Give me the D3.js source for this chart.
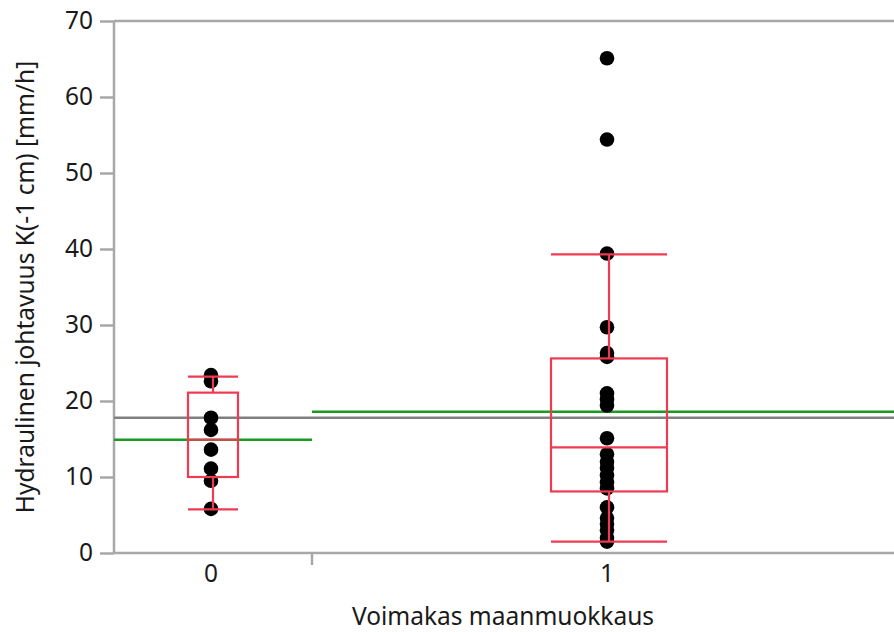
<!DOCTYPE html>
<html>
<head>
<meta charset="utf-8">
<script src="https://cdn.jsdelivr.net/npm/d3@7"></script>
<style>
    body { margin: 0; background: #fff; }
    text { font-family: "Noto Sans", "Open Sans", sans-serif; }
</style>
</head>
<body>
<div id="wrapper"></div>
<script>
// data
const categories = ["0", "1"];
const group0Values = [23.4, 22.6, 17.8, 16.2, 13.6, 11.1, 9.5, 5.8];
const group1Values = [65.1, 54.4, 39.4, 29.7, 26.3, 25.8, 21.0, 20.2, 19.4, 15.1,
    13.0, 12.0, 11.2, 10.2, 9.3, 8.5, 6.0, 4.6, 3.8, 3.0, 2.0, 1.5];
const boxLow = [5.75, 1.5];
const boxQ1 = [10.0, 8.1];
const boxMedian = [14.9, 13.9];
const boxQ3 = [21.1, 25.6];
const boxHigh = [23.2, 39.3];
const groupMeans = [14.9, 18.6];
const grandMean = 17.8;
const yTicks = [0, 10, 20, 30, 40, 50, 60, 70];

function drawChart() {
    let dimensions = {
        width: 894,
        height: 632,
        margin: { top: 21, right: -12, bottom: 79, left: 114 },
    };
    dimensions.boundedWidth = dimensions.width - dimensions.margin.left - dimensions.margin.right;
    dimensions.boundedHeight = dimensions.height - dimensions.margin.top - dimensions.margin.bottom;

    const fontSize = "24.5px";

    const wrapper = d3.select("#wrapper")
        .append("svg")
        .attr("width", dimensions.width)
        .attr("height", dimensions.height);

    const bounds = wrapper.append("g")
        .attr("transform", `translate(${dimensions.margin.left},${dimensions.margin.top})`);

    const yScale = d3.scaleLinear()
        .domain([0, 70])
        .range([dimensions.boundedHeight, 0]);

    // x widths: group 0 takes a quarter of the axis, group 1 the rest
    const bandEdges = [0, 0.25, 1];
    const xScale = d3.scaleLinear()
        .domain([0, 1])
        .range([0, dimensions.boundedWidth]);
    const centerOf = i => xScale((bandEdges[i] + bandEdges[i + 1]) / 2);
    const boxHalf = [25, 58];

    const groups = categories.map((c, i) => ({
        name: c,
        values: i === 0 ? group0Values : group1Values,
        low: boxLow[i], q1: boxQ1[i], median: boxMedian[i], q3: boxQ3[i], high: boxHigh[i],
        mean: groupMeans[i],
        x0: xScale(bandEdges[i]), x1: xScale(bandEdges[i + 1]),
        cx: centerOf(i), half: boxHalf[i],
    }));

    const axisColor = "#a8a8a8";
    const boxColor = "#ef3b52";

    // frame: top line
    bounds.append("line")
        .attr("x1", 0).attr("x2", dimensions.boundedWidth)
        .attr("y1", yScale(70)).attr("y2", yScale(70))
        .attr("stroke", axisColor).attr("stroke-width", 2.5);

    // y axis
    const yAxis = bounds.append("g")
        .call(d3.axisLeft(yScale).tickValues(yTicks).tickSize(14).tickPadding(7));
    yAxis.select(".domain").remove();
    yAxis.selectAll(".tick line").attr("stroke", axisColor).attr("stroke-width", 2.5);
    yAxis.selectAll(".tick text")
        .attr("fill", "#1a1a1a")
        .style("font-size", fontSize)
        .style("font-family", "'Noto Sans', sans-serif");
    bounds.append("line")
        .attr("x1", 0).attr("x2", 0)
        .attr("y1", 0).attr("y2", dimensions.boundedHeight)
        .attr("stroke", axisColor).attr("stroke-width", 2.5);

    // x axis
    bounds.append("line")
        .attr("x1", 0).attr("x2", dimensions.boundedWidth)
        .attr("y1", dimensions.boundedHeight).attr("y2", dimensions.boundedHeight)
        .attr("stroke", axisColor).attr("stroke-width", 2.5);
    bounds.append("line")
        .attr("x1", xScale(bandEdges[1])).attr("x2", xScale(bandEdges[1]))
        .attr("y1", dimensions.boundedHeight).attr("y2", dimensions.boundedHeight + 12)
        .attr("stroke", axisColor).attr("stroke-width", 2.5);
    bounds.selectAll(".xlabel")
        .data(groups)
        .join("text")
        .attr("class", "xlabel")
        .attr("x", d => d.cx - 2)
        .attr("y", dimensions.boundedHeight + 29)
        .attr("text-anchor", "middle")
        .attr("fill", "#1a1a1a")
        .style("font-size", fontSize)
        .text(d => d.name);

    // axis titles
    wrapper.append("text")
        .attr("x", 503)
        .attr("y", 625)
        .attr("text-anchor", "middle")
        .attr("fill", "#1a1a1a")
        .style("font-size", fontSize)
        .text("Voimakas maanmuokkaus");
    wrapper.append("text")
        .attr("transform", `translate(34,${dimensions.margin.top + dimensions.boundedHeight / 2}) rotate(-90)`)
        .attr("text-anchor", "middle")
        .attr("fill", "#1a1a1a")
        .style("font-size", fontSize)
        .text("Hydraulinen johtavuus K(-1 cm) [mm/h]");

    // grand mean
    bounds.append("line")
        .attr("x1", 0).attr("x2", dimensions.boundedWidth)
        .attr("y1", yScale(grandMean)).attr("y2", yScale(grandMean))
        .attr("stroke", "#808080").attr("stroke-width", 2.5);

    // group means
    bounds.selectAll(".mean")
        .data(groups)
        .join("line")
        .attr("class", "mean")
        .attr("x1", d => d.x0).attr("x2", d => d.x1)
        .attr("y1", d => yScale(d.mean)).attr("y2", d => yScale(d.mean))
        .attr("stroke", "#1a9a22").attr("stroke-width", 2.5);

    // points
    groups.forEach(g => {
        bounds.append("g")
            .selectAll("circle")
            .data(g.values)
            .join("circle")
            .attr("cx", g.cx - 2)
            .attr("cy", d => yScale(d))
            .attr("r", 7.3)
            .attr("fill", "#000");
    });

    // boxes
    const box = bounds.selectAll(".box")
        .data(groups)
        .join("g")
        .attr("class", "box")
        .attr("fill", "none")
        .attr("stroke", boxColor)
        .attr("stroke-width", 2.2);
    box.append("rect")
        .attr("x", d => d.cx - d.half)
        .attr("width", d => d.half * 2)
        .attr("y", d => yScale(d.q3))
        .attr("height", d => yScale(d.q1) - yScale(d.q3));
    box.append("line")
        .attr("x1", d => d.cx - d.half).attr("x2", d => d.cx + d.half)
        .attr("y1", d => yScale(d.median)).attr("y2", d => yScale(d.median));
    box.append("line")
        .attr("x1", d => d.cx).attr("x2", d => d.cx)
        .attr("y1", d => yScale(d.q3)).attr("y2", d => yScale(d.high));
    box.append("line")
        .attr("x1", d => d.cx).attr("x2", d => d.cx)
        .attr("y1", d => yScale(d.q1)).attr("y2", d => yScale(d.low));
    box.append("line")
        .attr("x1", d => d.cx - d.half).attr("x2", d => d.cx + d.half)
        .attr("y1", d => yScale(d.high)).attr("y2", d => yScale(d.high));
    box.append("line")
        .attr("x1", d => d.cx - d.half).attr("x2", d => d.cx + d.half)
        .attr("y1", d => yScale(d.low)).attr("y2", d => yScale(d.low));
}
drawChart();
</script>
</body>
</html>
